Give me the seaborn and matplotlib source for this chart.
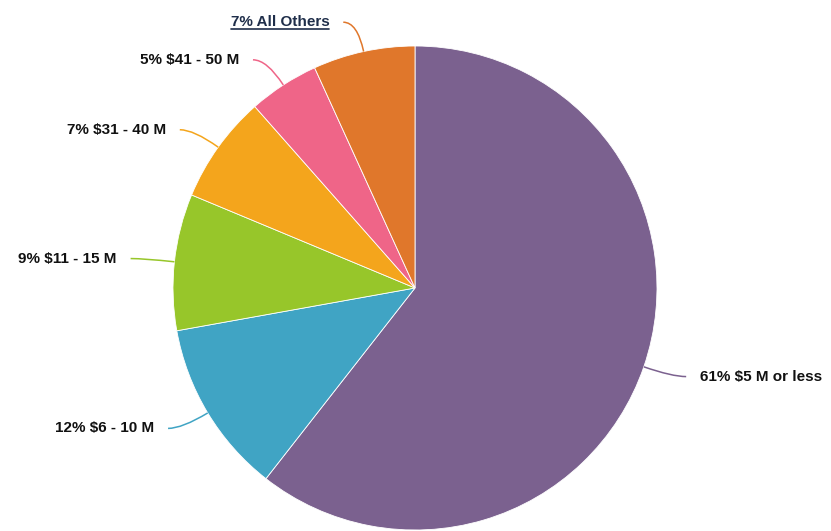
import numpy as np
import matplotlib
matplotlib.use("Agg")
import matplotlib.pyplot as plt
from matplotlib.path import Path
from matplotlib.patches import PathPatch
import seaborn as sns

# slice data (clockwise from 12 o'clock)
categories = ["$5 M or less", "$6 - 10 M", "$11 - 15 M", "$31 - 40 M", "$41 - 50 M", "All Others"]
shares = [60.5, 11.6, 9.1, 7.2, 4.7, 6.8]
pct_labels = ["61%", "12%", "9%", "7%", "5%", "7%"]
colors = ["#7b618f", "#40a4c4", "#97c62a", "#f4a51c", "#ef6588", "#e0772b"]

sns.set_theme(style="white")
plt.rcParams["font.family"] = ["Liberation Sans", "DejaVu Sans"]

W, H = 831, 531
fig = plt.figure(figsize=(W / 100, H / 100), dpi=100)
ax = fig.add_axes([0, 0, 1, 1])

cx, cy, r = 415, H - 288, 242
wedges, _ = ax.pie(shares, colors=sns.color_palette(colors), startangle=90,
                   counterclock=False, center=(cx, cy), radius=r,
                   wedgeprops=dict(edgecolor="white", linewidth=0.6))
ax.set_xlim(0, W)
ax.set_ylim(0, H)
ax.set_aspect("equal")
ax.axis("off")

underline = None
for w, cat, pct, col in zip(wedges, categories, pct_labels, colors):
    mid = np.deg2rad((w.theta1 + w.theta2) / 2)
    d = np.array([np.cos(mid), np.sin(mid)])
    p0 = np.array([cx, cy]) + r * d
    ctrl = np.array([cx, cy]) + (r + 30) * d
    side = 1 if d[0] >= 0 else -1
    end = ctrl + np.array([side * 14, 0])
    path = Path([p0, ctrl, end], [Path.MOVETO, Path.CURVE3, Path.CURVE3])
    ax.add_patch(PathPatch(path, fill=False, edgecolor=col, lw=1.1))
    is_other = cat == "All Others"
    t = ax.text(end[0] + side * 14, end[1], f"{pct} {cat}",
                ha="left" if side > 0 else "right", va="center",
                fontsize=11, fontweight="bold",
                color="#1f2e4a" if is_other else "#111111")
    if is_other:
        underline = t

# underline for the "All Others" label
fig.canvas.draw()
bb = underline.get_window_extent().transformed(ax.transData.inverted())
ax.plot([bb.x0, bb.x1], [bb.y0 + 0.5, bb.y0 + 0.5], color="#1f2e4a", lw=1.2)

fig.savefig("out.png", dpi=100)
